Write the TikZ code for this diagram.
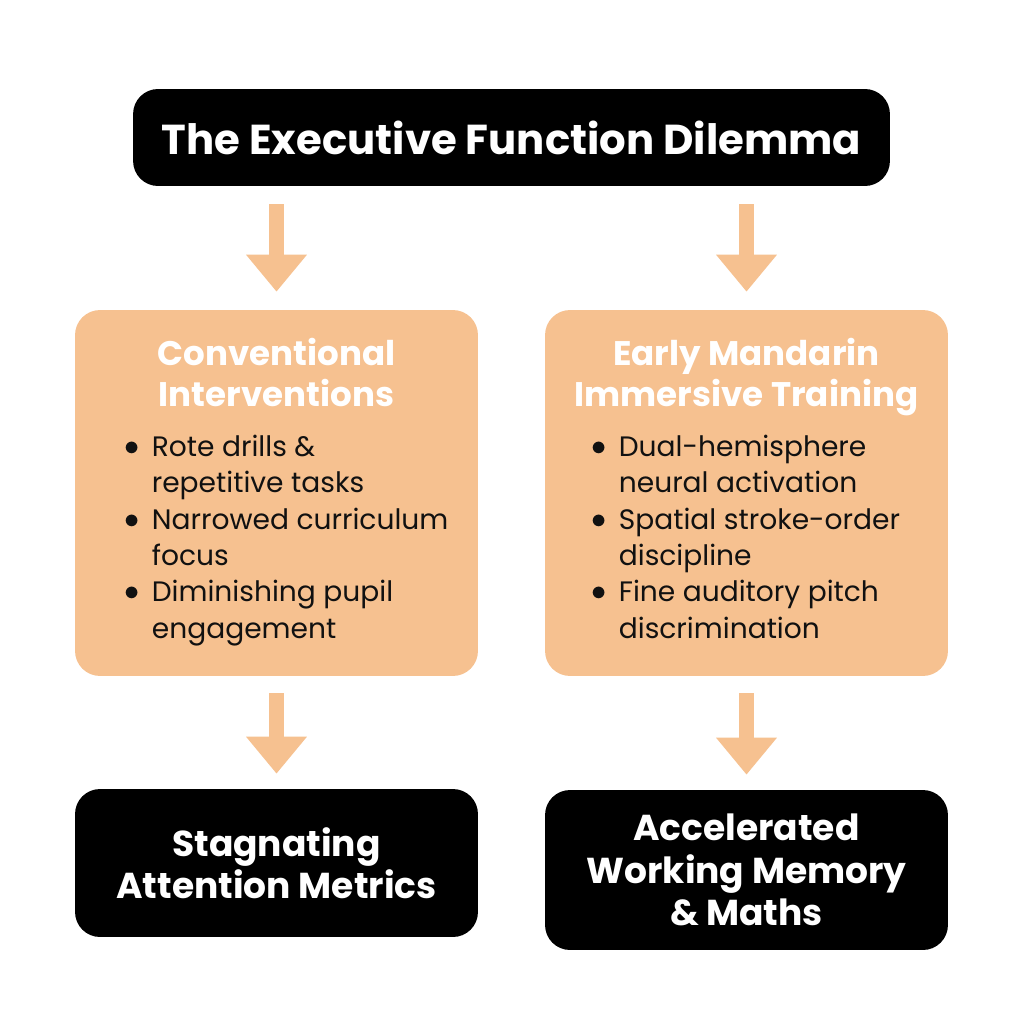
\documentclass[tikz,border=0pt]{standalone}
\usepackage{fontspec}
\setmainfont{Poppins}
\usepackage{xcolor}
\usepackage{tikz}
\usetikzlibrary{positioning,arrows.meta,calc}
\definecolor{peach}{HTML}{F6C190}
\definecolor{inkblack}{HTML}{111111}

\tikzset{
	darkbox/.style={fill=black,rounded corners=0.5cm,text=white,font=\bfseries\fontsize{20.5}{24}\selectfont,align=center,inner sep=0pt},
	peachbox/.style={fill=peach,rounded corners=0.5cm,minimum width=8.06cm,minimum height=7.32cm,inner sep=0pt},
	headtext/.style={text=white,font=\bfseries\fontsize{19.4}{23}\selectfont,align=center,inner sep=0pt,anchor=north},
	listtext/.style={text=inkblack,font=\fontsize{16}{20.7}\selectfont,anchor=west,inner sep=0pt},
	peacharrow/.style={draw=peach,line width=0.3cm,-{Triangle[length=0.74cm,width=1.17cm]},shorten <=0.36cm,shorten >=0.36cm}
}
\newcommand{\bul}{\raisebox{0.5pt}{$\bullet$}}

\begin{document}
\begin{tikzpicture}[x=0.02cm,y=-0.02cm]
	\useasboundingbox[fill=white] (0,0) rectangle (1024,1024);
	\node[darkbox,minimum width=15.14cm,minimum height=1.94cm,font=\bfseries\fontsize{23.8}{27}\selectfont] (title) at (511.5,137.5) {The Executive Function Dilemma};
	\node[peachbox] (lbox) at (276.5,493) {};
	\node[peachbox] (rbox) at (746.5,493) {};
	\node[headtext] (lhead) at (276.5,338) {Conventional\\Interventions};
	\node[headtext] (rhead) at (746.5,338) {Early Mandarin\\Immersive Training};
	\node[listtext] (llist) at (124,540) {\begin{tabular}{@{}l@{\hspace{7pt}}l@{}}
		\bul & Rote drills \&\\ & repetitive tasks\\
		\bul & Narrowed curriculum\\ & focus\\
		\bul & Diminishing pupil\\ & engagement
	\end{tabular}};
	\node[listtext] (rlist) at (591,540) {\begin{tabular}{@{}l@{\hspace{7pt}}l@{}}
		\bul & Dual-hemisphere\\ & neural activation\\
		\bul & Spatial stroke-order\\ & discipline\\
		\bul & Fine auditory pitch\\ & discrimination
	\end{tabular}};
	\node[darkbox,minimum width=8.06cm,minimum height=2.96cm] (lres) at (276.5,863) {Stagnating\\Attention Metrics};
	\node[darkbox,minimum width=8.06cm,minimum height=3.2cm] (rres) at (746.5,870) {Accelerated\\Working Memory\\\& Maths};
	\draw[peacharrow] (title.south -| lbox.north) -- (lbox.north);
	\draw[peacharrow] (title.south -| rbox.north) -- (rbox.north);
	\draw[peacharrow,shorten >=0.3cm,shorten <=0.34cm] (lbox) -- (lres);
	\draw[peacharrow,shorten >=0.3cm,shorten <=0.34cm] (rbox.south) -- (rres.north);
\end{tikzpicture}
\end{document}
